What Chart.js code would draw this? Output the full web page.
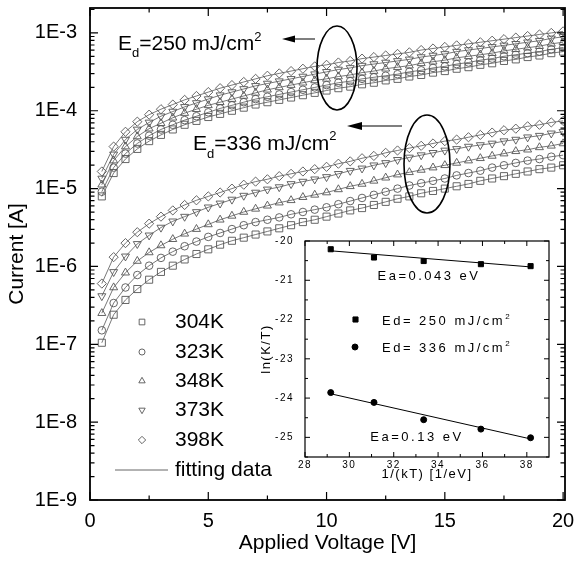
<!DOCTYPE html>
<html>
<head>
<meta charset="utf-8">
<script src="https://cdn.jsdelivr.net/npm/chart.js@4/dist/chart.umd.min.js"></script>
<style>
  html, body { margin: 0; padding: 0; background: #fff; }
  #wrap { position: relative; width: 575px; height: 564px; }
  #wrap canvas { position: absolute; left: 0; top: 0; }
</style>
</head>
<body>
<div id="wrap">
  <canvas id="main" width="575" height="564"></canvas>
  <canvas id="inset" width="575" height="564"></canvas>
</div>
<script>
(function(){
  const FONT = '"Liberation Sans", Arial, sans-serif';

  // main plot: applied voltage [V]
  const voltage = [0.5,1,1.5,2,2.5,3,3.5,4,4.5,5,5.5,6,6.5,7,7.5,8,8.5,9,9.5,10,
                   10.5,11,11.5,12,12.5,13,13.5,14,14.5,15,15.5,16,16.5,17,17.5,18,18.5,19,19.5,20];
  const temps = ['304K','323K','348K','373K','398K'];

  // log10 of current [A] — Ed = 250 mJ/cm2
  const lg250_304K = [-5.10,-4.80,-4.62,-4.49,-4.39,-4.31,-4.24,-4.18,-4.13,-4.08,-4.04,-4.00,-3.96,-3.92,-3.89,-3.86,-3.83,-3.80,-3.77,-3.74,
                      -3.71,-3.69,-3.66,-3.64,-3.61,-3.59,-3.56,-3.54,-3.51,-3.49,-3.46,-3.44,-3.41,-3.39,-3.36,-3.34,-3.31,-3.29,-3.26,-3.24];
  const lg250_323K = [-5.04,-4.73,-4.55,-4.42,-4.32,-4.24,-4.18,-4.12,-4.07,-4.02,-3.97,-3.93,-3.89,-3.85,-3.82,-3.79,-3.76,-3.73,-3.70,-3.67,
                      -3.64,-3.62,-3.59,-3.57,-3.55,-3.53,-3.50,-3.48,-3.45,-3.43,-3.40,-3.38,-3.35,-3.33,-3.30,-3.28,-3.26,-3.24,-3.21,-3.19];
  const lg250_348K = [-4.95,-4.64,-4.46,-4.33,-4.23,-4.16,-4.09,-4.03,-3.98,-3.93,-3.89,-3.85,-3.81,-3.77,-3.73,-3.70,-3.67,-3.64,-3.61,-3.59,
                      -3.56,-3.54,-3.51,-3.49,-3.46,-3.44,-3.42,-3.39,-3.37,-3.35,-3.32,-3.30,-3.28,-3.26,-3.23,-3.21,-3.19,-3.17,-3.14,-3.12];
  const lg250_373K = [-4.87,-4.56,-4.37,-4.24,-4.15,-4.07,-4.01,-3.95,-3.90,-3.85,-3.80,-3.76,-3.72,-3.68,-3.65,-3.62,-3.59,-3.56,-3.53,-3.50,
                      -3.47,-3.45,-3.42,-3.40,-3.38,-3.36,-3.34,-3.31,-3.29,-3.27,-3.24,-3.22,-3.20,-3.18,-3.16,-3.14,-3.12,-3.10,-3.07,-3.05];
  const lg250_398K = [-4.78,-4.46,-4.27,-4.14,-4.05,-3.98,-3.92,-3.86,-3.81,-3.76,-3.71,-3.67,-3.63,-3.59,-3.55,-3.52,-3.49,-3.46,-3.43,-3.41,
                      -3.38,-3.36,-3.33,-3.31,-3.29,-3.27,-3.25,-3.22,-3.20,-3.18,-3.16,-3.14,-3.12,-3.10,-3.08,-3.06,-3.04,-3.02,-3.00,-2.98];

  // Ed = 336 mJ/cm2
  const lg336_304K = [-6.98,-6.62,-6.43,-6.29,-6.17,-6.07,-5.99,-5.91,-5.84,-5.78,-5.72,-5.67,-5.63,-5.59,-5.55,-5.51,-5.47,-5.43,-5.40,-5.36,
                      -5.32,-5.28,-5.25,-5.21,-5.17,-5.13,-5.10,-5.06,-5.03,-5.00,-4.97,-4.94,-4.90,-4.87,-4.84,-4.81,-4.78,-4.75,-4.73,-4.70];
  const lg336_323K = [-6.82,-6.47,-6.27,-6.11,-5.99,-5.89,-5.81,-5.74,-5.68,-5.62,-5.57,-5.52,-5.47,-5.43,-5.40,-5.37,-5.33,-5.30,-5.27,-5.24,
                      -5.20,-5.16,-5.12,-5.08,-5.04,-5.00,-4.96,-4.93,-4.90,-4.87,-4.83,-4.80,-4.77,-4.73,-4.70,-4.67,-4.64,-4.62,-4.59,-4.57];
  const lg336_348K = [-6.60,-6.27,-6.08,-5.93,-5.82,-5.73,-5.65,-5.58,-5.52,-5.46,-5.40,-5.35,-5.30,-5.26,-5.22,-5.18,-5.15,-5.11,-5.08,-5.05,
                      -5.01,-4.97,-4.94,-4.90,-4.86,-4.82,-4.79,-4.76,-4.73,-4.70,-4.67,-4.64,-4.61,-4.58,-4.55,-4.52,-4.50,-4.47,-4.45,-4.42];
  const lg336_373K = [-6.38,-6.07,-5.87,-5.71,-5.60,-5.50,-5.42,-5.36,-5.30,-5.24,-5.19,-5.14,-5.09,-5.05,-5.01,-4.98,-4.94,-4.91,-4.88,-4.85,
                      -4.81,-4.77,-4.74,-4.70,-4.67,-4.63,-4.60,-4.57,-4.54,-4.51,-4.49,-4.46,-4.44,-4.42,-4.39,-4.37,-4.34,-4.32,-4.29,-4.27];
  const lg336_398K = [-6.22,-5.88,-5.70,-5.56,-5.45,-5.36,-5.28,-5.21,-5.15,-5.10,-5.05,-5.00,-4.95,-4.91,-4.88,-4.84,-4.81,-4.78,-4.75,-4.72,
                      -4.68,-4.65,-4.61,-4.58,-4.54,-4.51,-4.48,-4.45,-4.42,-4.39,-4.37,-4.34,-4.31,-4.28,-4.25,-4.23,-4.20,-4.18,-4.15,-4.13];

  // inset: Arrhenius plot
  const invKT = [29.16, 31.11, 33.35, 35.93, 38.17];
  const lnKT_250 = [-20.21, -20.42, -20.51, -20.59, -20.64];
  const lnKT_336 = [-23.86, -24.11, -24.55, -24.79, -25.01];
  const fitX = [29.16, 38.17];
  const fit_250 = [-20.25, -20.66];
  const fit_336 = [-23.89, -25.04];

  // tick labels
  const mainXTicks = [0, 5, 10, 15, 20];
  const mainYTicks = [1e-9, 1e-8, 1e-7, 1e-6, 1e-5, 1e-4, 1e-3];
  const insetXTicks = [28, 30, 32, 34, 36, 38];
  const insetYTicks = [-25, -24, -23, -22, -21, -20];

  Chart.defaults.font.family = FONT;
  Chart.defaults.color = '#000';

  const markers = [
    { pointStyle: 'rect', rotation: 0, radius: 5 },
    { pointStyle: 'circle', rotation: 0, radius: 3.8 },
    { pointStyle: 'triangle', rotation: 0, radius: 4.6 },
    { pointStyle: 'triangle', rotation: 180, radius: 4.6 },
    { pointStyle: 'rectRot', rotation: 0, radius: 4.6 }
  ];

  const groups = [
    [lg250_304K, lg250_323K, lg250_348K, lg250_373K, lg250_398K],
    [lg336_304K, lg336_323K, lg336_348K, lg336_373K, lg336_398K]
  ];
  const datasets = [];
  groups.forEach(g => g.forEach((s, k) => {
    datasets.push({
      data: voltage.map((v, i) => ({ x: v, y: Math.pow(10, s[i]) })),
      showLine: true, borderColor: '#555', borderWidth: 0.8,
      pointStyle: markers[k].pointStyle, pointRotation: markers[k].rotation, pointRadius: markers[k].radius,
      pointBorderColor: '#555', pointBackgroundColor: 'rgba(0,0,0,0)', pointBorderWidth: 0.9
    });
  }));

  // fixed box sizes, no label-overflow padding
  const fixBox = (w, h) => s => {
    if (w != null) s.width = w;
    if (h != null) s.height = h;
    s.paddingLeft = s.paddingRight = s.paddingTop = s.paddingBottom = 0;
  };
  const noGrid = { display: false, drawTicks: false, tickLength: 0 };

  // inward ticks on all four sides + frame
  const frameTicks = {
    id: 'frameTicks',
    afterDraw(chart, args, o) {
      const { ctx, chartArea: a } = chart;
      const xs = chart.scales.x, ys = chart.scales.y;
      ctx.save();
      ctx.strokeStyle = '#000';
      ctx.lineWidth = o.tickWidth;
      ctx.beginPath();
      const xt = (vals, len) => vals.forEach(v => {
        const p = xs.getPixelForValue(v);
        ctx.moveTo(p, a.bottom); ctx.lineTo(p, a.bottom - len);
        ctx.moveTo(p, a.top); ctx.lineTo(p, a.top + len);
      });
      const yt = (vals, len) => vals.forEach(v => {
        const p = ys.getPixelForValue(v);
        ctx.moveTo(a.left, p); ctx.lineTo(a.left + len, p);
        ctx.moveTo(a.right, p); ctx.lineTo(a.right - len, p);
      });
      xt(o.xMajor, o.majorLen); xt(o.xMinor, o.minorLen);
      yt(o.yMajor, o.majorLen); yt(o.yMinor, o.minorLen);
      ctx.stroke();
      ctx.lineWidth = o.frameWidth;
      ctx.strokeRect(a.left, a.top, a.right - a.left, a.bottom - a.top);
      ctx.restore();
    }
  };

  function richText(ctx, x, y, parts) {
    parts.forEach(([t, size, dy]) => {
      ctx.font = size + 'px ' + FONT;
      ctx.fillText(t, x, y + dy);
      x += ctx.measureText(t).width;
    });
  }

  const yMinor = [];
  for (let e = -9; e <= -3; e++) for (let k = 2; k <= 9; k++) {
    const v = k * Math.pow(10, e);
    if (v <= 2.09e-3) yMinor.push(v);
  }

  const mainNotes = {
    id: 'mainNotes',
    afterDraw(chart) {
      const ctx = chart.ctx;
      ctx.save();
      ctx.fillStyle = '#000';
      ctx.strokeStyle = '#000';
      ctx.textBaseline = 'alphabetic';
      richText(ctx, 118, 50, [['E', 21, 0], ['d', 13, 7], ['=250 mJ/cm', 21, 0], ['2', 13, -9]]);
      richText(ctx, 193, 150, [['E', 21, 0], ['d', 13, 8], ['=336 mJ/cm', 21, 0], ['2', 13, -10]]);
      // arrows
      ctx.lineWidth = 1.2;
      ctx.beginPath();
      ctx.moveTo(315, 39); ctx.lineTo(290, 39);
      ctx.moveTo(402, 126); ctx.lineTo(358, 126);
      ctx.stroke();
      ctx.beginPath();
      ctx.moveTo(282, 39); ctx.lineTo(295, 35.5); ctx.lineTo(295, 42.5); ctx.closePath();
      ctx.moveTo(347, 126); ctx.lineTo(362, 122); ctx.lineTo(362, 130); ctx.closePath();
      ctx.fill();
      // ellipses
      ctx.lineWidth = 1.6;
      ctx.beginPath(); ctx.ellipse(337, 68, 20, 42, 0, 0, 2 * Math.PI); ctx.stroke();
      ctx.beginPath(); ctx.ellipse(427, 164, 23, 49, 0, 0, 2 * Math.PI); ctx.stroke();
      // legend
      const rows = [322, 352, 381, 410, 440];
      ctx.font = '21px ' + FONT;
      ctx.textBaseline = 'middle';
      ctx.lineWidth = 0.9;
      ctx.strokeStyle = '#555';
      temps.forEach((t, k) => {
        ctx.fillStyle = 'rgba(0,0,0,0)';
        Chart.helpers.drawPoint(ctx, { pointStyle: markers[k].pointStyle, rotation: markers[k].rotation,
          radius: markers[k].radius * 0.8, borderWidth: 0.9 }, 142, rows[k]);
        ctx.fillStyle = '#000';
        ctx.fillText(t, 175, rows[k]);
      });
      ctx.beginPath(); ctx.moveTo(115, 470); ctx.lineTo(168, 470); ctx.stroke();
      ctx.fillText('fitting data', 175, 470);
      ctx.restore();
    }
  };

  new Chart(document.getElementById('main'), {
    type: 'scatter',
    data: { datasets },
    options: {
      responsive: false, animation: false, events: [],
      layout: { padding: { left: 0, top: 8, right: 10, bottom: 0 } },
      plugins: { legend: { display: false }, tooltip: { enabled: false },
        frameTicks: { xMajor: mainXTicks, xMinor: [2.5, 7.5, 12.5, 17.5], yMajor: mainYTicks, yMinor,
          majorLen: 8, minorLen: 4.5, tickWidth: 1.2, frameWidth: 1.8 } },
      scales: {
        x: { type: 'linear', min: 0, max: 20.08,
          afterBuildTicks: s => { s.ticks = mainXTicks.map(v => ({ value: v })); },
          afterFit: fixBox(null, 64),
          grid: noGrid, border: { display: false },
          ticks: { padding: 9, font: { size: 20 }, color: '#000', maxRotation: 0 },
          title: { display: true, text: 'Applied Voltage [V]', font: { size: 21 }, padding: { top: 0, bottom: 8 } } },
        y: { type: 'logarithmic', min: 1e-9, max: 2.09e-3,
          afterBuildTicks: s => { s.ticks = mainYTicks.map(v => ({ value: v })); },
          afterFit: fixBox(90, null),
          grid: noGrid, border: { display: false },
          ticks: { padding: 13, font: { size: 20 }, color: '#000',
            callback: v => '1E' + Math.round(Math.log10(v)) },
          title: { display: true, text: 'Current [A]', font: { size: 21 }, padding: { top: 5, bottom: 0 } } }
      }
    },
    plugins: [frameTicks, mainNotes]
  });

  const insetBg = {
    id: 'insetBg',
    beforeDraw(chart) {
      const { ctx, chartArea: a } = chart;
      ctx.letterSpacing = '1.5px';
      ctx.save();
      ctx.fillStyle = '#fff';
      ctx.fillRect(a.left, a.top, a.right - a.left, a.bottom - a.top);
      ctx.restore();
    }
  };

  const insetNotes = {
    id: 'insetNotes',
    afterDraw(chart) {
      const ctx = chart.ctx;
      ctx.save();
      ctx.fillStyle = '#000';
      ctx.letterSpacing = '2.5px';
      ctx.font = '13px ' + FONT;
      ctx.textBaseline = 'middle';
      ctx.textAlign = 'center';
      ctx.fillText('Ea=0.043 eV', 429, 276.5);
      ctx.fillText('Ea=0.13 eV', 417, 437.5);
      ctx.textAlign = 'left';
      ctx.textBaseline = 'alphabetic';
      richText(ctx, 382, 325, [['Ed= 250 mJ/cm', 13, 0], ['2', 8, -6]]);
      richText(ctx, 382, 352, [['Ed= 336 mJ/cm', 13, 0], ['2', 8, -6]]);
      Chart.helpers.drawPoint(ctx, { pointStyle: 'rect', radius: 3.6, borderWidth: 1 }, 355.5, 319.5);
      Chart.helpers.drawPoint(ctx, { pointStyle: 'circle', radius: 3, borderWidth: 1 }, 355, 347);
      ctx.restore();
    }
  };

  const pts = (xs, ys) => xs.map((x, i) => ({ x, y: ys[i] }));

  new Chart(document.getElementById('inset'), {
    type: 'scatter',
    data: { datasets: [
      { data: pts(fitX, fit_250), showLine: true, pointRadius: 0, borderColor: '#000', borderWidth: 1 },
      { data: pts(fitX, fit_336), showLine: true, pointRadius: 0, borderColor: '#000', borderWidth: 1 },
      { data: pts(invKT, lnKT_250), pointStyle: 'rect', pointRadius: 3.6, backgroundColor: '#000', borderColor: '#000' },
      { data: pts(invKT, lnKT_336), pointStyle: 'circle', pointRadius: 3, backgroundColor: '#000', borderColor: '#000' }
    ] },
    options: {
      responsive: false, animation: false, events: [],
      layout: { padding: { left: 240, top: 241, right: 26, bottom: 74 } },
      plugins: { legend: { display: false }, tooltip: { enabled: false },
        frameTicks: { xMajor: insetXTicks, xMinor: [29, 31, 33, 35, 37], yMajor: insetYTicks,
          yMinor: [-25.5, -24.5, -23.5, -22.5, -21.5, -20.5], majorLen: 5, minorLen: 3, tickWidth: 1, frameWidth: 1.2 } },
      scales: {
        x: { type: 'linear', min: 28, max: 39,
          afterBuildTicks: s => { s.ticks = insetXTicks.map(v => ({ value: v })); },
          afterFit: fixBox(null, 33),
          grid: noGrid, border: { display: false },
          ticks: { padding: 2, font: { size: 10 }, color: '#000', maxRotation: 0 },
          title: { display: true, text: '1/(kT) [1/eV]', font: { size: 13 }, padding: { top: 0, bottom: 8 } } },
        y: { type: 'linear', min: -25.5, max: -20,
          afterBuildTicks: s => { s.ticks = insetYTicks.map(v => ({ value: v })); },
          afterFit: fixBox(65, null),
          grid: noGrid, border: { display: false },
          ticks: { padding: 11, font: { size: 10 }, color: '#000' },
          title: { display: true, text: 'ln(K/T)', font: { size: 13 }, padding: { top: 19, bottom: 0 } } }
      }
    },
    plugins: [insetBg, frameTicks, insetNotes]
  });
})();
</script>
</body>
</html>
